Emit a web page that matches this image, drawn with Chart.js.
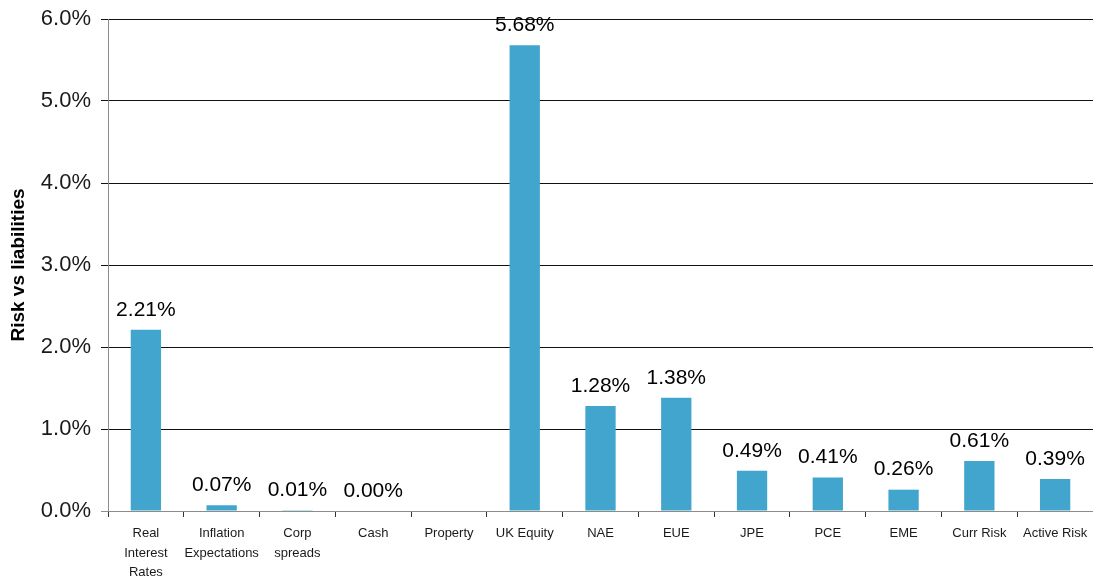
<!DOCTYPE html>
<html>
<head>
<meta charset="utf-8">
<script src="https://cdn.jsdelivr.net/npm/chart.js@4/dist/chart.umd.min.js"></script>
<style>
  html, body { margin: 0; padding: 0; background: #ffffff; }
  #wrap { width: 1093px; height: 579px; }
</style>
</head>
<body>
<div id="wrap"><canvas id="c" width="1093" height="579"></canvas></div>
<script>
// Risk contribution of each factor, % of liabilities
const categories = [
  ['Real', 'Interest', 'Rates'],
  ['Inflation', 'Expectations'],
  ['Corp', 'spreads'],
  'Cash', 'Property', 'UK Equity', 'NAE', 'EUE', 'JPE', 'PCE', 'EME', 'Curr Risk', 'Active Risk'
];
const riskValues = [2.21, 0.07, 0.01, 0.00, null, 5.68, 1.28, 1.38, 0.49, 0.41, 0.26, 0.61, 0.39];
const yTicks = [0, 1, 2, 3, 4, 5, 6];

const barColor = '#42A5CE';
const axisGrey = '#8c8c8c';

// Value captions above each bar
const valueLabels = {
  id: 'valueLabels',
  afterDatasetsDraw(chart) {
    const ctx = chart.ctx;
    const meta = chart.getDatasetMeta(0);
    ctx.save();
    ctx.font = '21px "Liberation Sans", Arial, sans-serif';
    ctx.fillStyle = '#000000';
    ctx.textAlign = 'center';
    ctx.textBaseline = 'middle';
    meta.data.forEach((bar, i) => {
      const v = riskValues[i];
      if (v === null || v === undefined) return;
      ctx.fillText(v.toFixed(2) + '%', bar.x, bar.y - 20);
    });
    ctx.restore();
  }
};

new Chart(document.getElementById('c'), {
  type: 'bar',
  data: {
    labels: categories,
    datasets: [{
      data: riskValues,
      backgroundColor: barColor,
      borderWidth: 0,
      barPercentage: 0.4,
      categoryPercentage: 1.0
    }]
  },
  options: {
    responsive: false,
    animation: false,
    layout: { padding: { top: 19, right: 0, left: 0, bottom: 0 } },
    plugins: {
      legend: { display: false },
      tooltip: { enabled: false }
    },
    scales: {
      x: {
        offset: true,
        grid: {
          display: true,
          offset: true,
          drawOnChartArea: false,
          drawTicks: true,
          tickLength: 6,
          color: '#333333'
        },
        border: { display: true, color: axisGrey, width: 1 },
        ticks: {
          color: '#1a1a1a',
          padding: 7,
          maxRotation: 0,
          autoSkip: false,
          font: { family: '"Liberation Sans Narrow", "Liberation Sans", Arial, sans-serif', size: 13, lineHeight: 1.5 }
        },
        afterFit(scale) {
          scale.height = 68;
          scale.paddingLeft = 0;
          scale.paddingRight = 0;
        }
      },
      y: {
        min: 0,
        max: 6,
        afterBuildTicks(scale) { scale.ticks = yTicks.map(v => ({ value: v })); },
        grid: {
          color: (c) => (c.tick && c.tick.value === 0) ? axisGrey : '#111111',
          lineWidth: 1,
          drawTicks: true,
          tickLength: 7
        },
        border: { display: true, color: axisGrey, width: 1 },
        ticks: {
          color: '#1a1a1a',
          padding: 10,
          font: { family: '"Liberation Sans", Arial, sans-serif', size: 22 },
          callback: (v) => Number(v).toFixed(1) + '%'
        },
        title: {
          display: true,
          text: 'Risk vs liabilities',
          color: '#000000',
          padding: { top: 7, bottom: 0 },
          font: { family: '"Liberation Sans", Arial, sans-serif', size: 19, weight: 'bold' }
        },
        afterFit(scale) {
          scale.width = 108;
          scale.paddingTop = 0;
          scale.paddingBottom = 0;
        }
      }
    }
  },
  plugins: [valueLabels]
});
</script>
</body>
</html>
